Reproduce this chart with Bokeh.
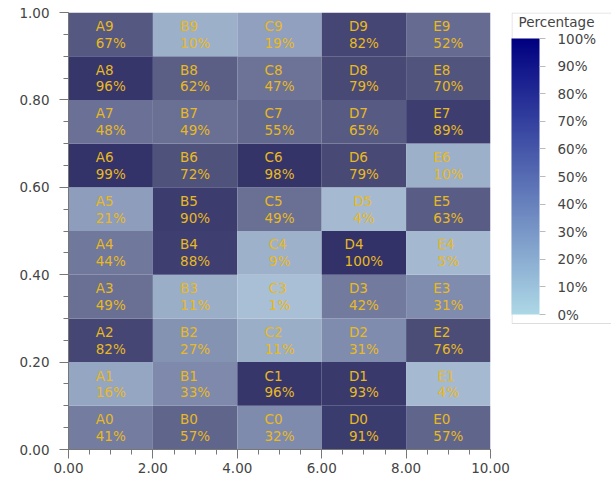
import numpy as np
from bokeh.plotting import figure
from bokeh.layouts import row
from bokeh.models import (ColumnDataSource, LinearColorMapper, ColorBar, FixedTicker,
                          PrintfTickFormatter, NumeralTickFormatter, Range1d, SingleIntervalTicker)
from bokeh.core.properties import value
from bokeh.embed import file_html
from bokeh.resources import INLINE

# ---- data ----
columns = ["A", "B", "C", "D", "E"]
row_ids = [0, 1, 2, 3, 4, 5, 6, 7, 8, 9]
pct_A = [41, 16, 82, 49, 44, 21, 99, 48, 96, 67]
pct_B = [57, 33, 27, 11, 88, 90, 72, 49, 62, 10]
pct_C = [32, 96, 11, 1, 9, 49, 98, 55, 47, 19]
pct_D = [91, 93, 31, 42, 100, 4, 79, 65, 79, 82]
pct_E = [57, 4, 76, 31, 5, 63, 10, 89, 70, 52]
cbar_ticks = [0, 10, 20, 30, 40, 50, 60, 70, 80, 90, 100]
cbar_title = "Percentage"

pct_by_col = {"A": pct_A, "B": pct_B, "C": pct_C, "D": pct_D, "E": pct_E}

FONT = "DejaVu Sans"

def interp_palette(stops, n=256):
    pos = np.array([s[0] for s in stops])
    cols = np.array([s[1] for s in stops], dtype=float)
    out = []
    for t in np.linspace(0, 1, n):
        r = np.interp(t, pos, cols[:, 0]); g = np.interp(t, pos, cols[:, 1]); b = np.interp(t, pos, cols[:, 2])
        out.append("#%02x%02x%02x" % (int(round(r)), int(round(g)), int(round(b))))
    return out

bar_palette = interp_palette([(0, (173, 216, 230)), (1, (0, 0, 128))])
cell_palette = interp_palette([(0, (170, 192, 214)), (0.25, (136, 150, 182)),
                               (0.5, (104, 110, 147)), (0.75, (76, 78, 120)), (1, (50, 50, 104))])

xs, ys, vals, labels = [], [], [], []
for ci, c in enumerate(columns):
    for r in row_ids:
        v = pct_by_col[c][r]
        xs.append(ci * 2 + 1)
        ys.append(r * 0.1 + 0.05)
        vals.append(v)
        labels.append(f"{c}{r}\n{v}%")

src = ColumnDataSource(dict(x=xs, y=ys, v=vals, label=labels))

bar_mapper = LinearColorMapper(palette=bar_palette, low=0, high=100)
cell_mapper = LinearColorMapper(palette=cell_palette, low=0, high=100)

# ---- main heatmap ----
p = figure(width=511, height=481, x_range=Range1d(0, 10), y_range=Range1d(0, 1),
           output_backend="svg", toolbar_location=None,
           min_border_left=68, min_border_top=12, min_border_bottom=32, min_border_right=21)
p.grid.visible = False
p.outline_line_color = None

p.rect(x="x", y="y", width=2, height=0.1, source=src,
       fill_color={"field": "v", "transform": cell_mapper}, line_color=None)
p.text(x="x", y="y", text="label", source=src, text_align="left", anchor="center",
       text_color="#e8b923", text_font=value(FONT), text_font_size="13.5px",
       text_line_height=1.05)

for ax, interval in ((p.xaxis, 2), (p.yaxis, 0.2)):
    ax.ticker = SingleIntervalTicker(interval=interval, num_minor_ticks=4)
    ax.formatter = NumeralTickFormatter(format="0.00")
    ax.major_tick_out = 9
    ax.major_tick_in = 0
    ax.minor_tick_out = 5
    ax.minor_tick_in = 0
    ax.axis_line_color = "#777777"
    ax.major_tick_line_color = "#777777"
    ax.minor_tick_line_color = "#777777"
    ax.major_label_text_color = "#444444"
    ax.major_label_text_font = FONT
    ax.major_label_text_font_size = "13.5px"
p.xaxis.major_label_standoff = 4
p.yaxis.major_label_standoff = 10

# ---- side panel with colour bar (frame aligned with main frame: 437 px tall) ----
p2 = figure(width=100, height=481, x_range=Range1d(0, 100), y_range=Range1d(0, 437),
            output_backend="svg", toolbar_location=None, x_axis_type=None, y_axis_type=None,
            min_border=0, min_border_left=0, min_border_right=0, min_border_top=12, min_border_bottom=32)
p2.grid.visible = False
p2.outline_line_color = None

p2.quad(left=[0.5], right=[120], bottom=[126], top=[436.5],
        fill_color=None, line_color="#dddddd", line_width=1)
p2.text(x=[7], y=[428], text=[cbar_title], text_baseline="middle", text_align="left",
        text_font=value(FONT), text_font_size="13.5px", text_color="#444444")

cb = ColorBar(color_mapper=bar_mapper, ticker=FixedTicker(ticks=cbar_ticks),
              formatter=PrintfTickFormatter(format="%d%%"),
              width=28, height=276, padding=0, location=(0, 135),
              border_line_color=None, background_fill_color=None,
              major_tick_out=6, major_tick_in=0,
              major_tick_line_color="#bbbbbb", label_standoff=12,
              major_label_text_font=FONT, major_label_text_font_size="13.5px",
              major_label_text_color="#444444")
p2.add_layout(cb)

layout = row(p, p2, spacing=0)
open("out.html", "w").write(file_html(layout, INLINE))
